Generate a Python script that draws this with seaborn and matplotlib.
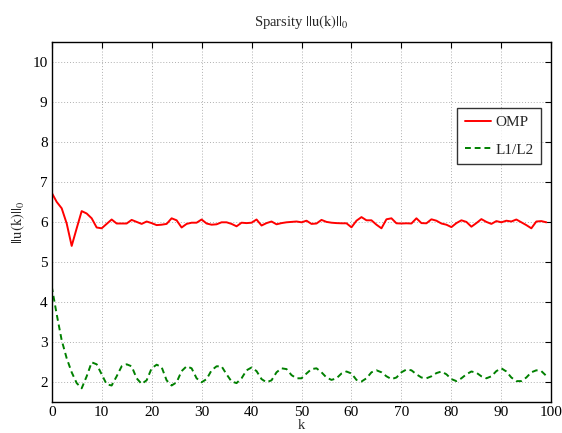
import numpy as np
import pandas as pd
import matplotlib
matplotlib.use("Agg")
import matplotlib.pyplot as plt
import seaborn as sns

k = list(range(100))
omp = [6.74, 6.51, 6.35, 5.97, 5.41, 5.85, 6.28, 6.22, 6.10, 5.87,
       5.85, 5.96, 6.07, 5.97, 5.97, 5.97, 6.06, 6.01, 5.96, 6.02,
       5.98, 5.93, 5.94, 5.96, 6.10, 6.05, 5.87, 5.96, 5.99, 5.99,
       6.07, 5.97, 5.94, 5.95, 6.00, 6.00, 5.96, 5.90, 5.99, 5.98,
       5.99, 6.07, 5.92, 5.98, 6.02, 5.95, 5.98, 6.00, 6.01, 6.02,
       6.00, 6.04, 5.96, 5.97, 6.06, 6.01, 5.99, 5.98, 5.975, 5.975,
       5.875, 6.04, 6.13, 6.05, 6.05, 5.94, 5.85, 6.075, 6.10, 5.975,
       5.97, 5.975, 5.97, 6.10, 5.98, 5.975, 6.075, 6.04, 5.97, 5.94,
       5.88, 5.98, 6.05, 6.01, 5.89, 5.98, 6.08, 6.01, 5.96, 6.03,
       6.00, 6.04, 6.02, 6.07, 6.00, 5.93, 5.85, 6.02, 6.03, 6.00]
l1l2 = [4.40, 3.70, 3.05, 2.60, 2.25, 1.98, 1.85, 2.15, 2.50, 2.45,
        2.20, 1.95, 1.92, 2.15, 2.40, 2.45, 2.40, 2.10, 1.96, 2.05,
        2.35, 2.44, 2.38, 2.05, 1.92, 2.00, 2.28, 2.40, 2.35, 2.10,
        2.00, 2.08, 2.30, 2.40, 2.40, 2.20, 2.02, 1.98, 2.10, 2.30,
        2.37, 2.28, 2.08, 2.00, 2.05, 2.25, 2.35, 2.33, 2.18, 2.10,
        2.10, 2.22, 2.33, 2.35, 2.25, 2.12, 2.06, 2.10, 2.22, 2.27,
        2.22, 2.06, 2.02, 2.10, 2.25, 2.30, 2.25, 2.15, 2.08, 2.12,
        2.25, 2.32, 2.30, 2.20, 2.12, 2.10, 2.15, 2.23, 2.27, 2.20,
        2.08, 2.03, 2.10, 2.20, 2.27, 2.24, 2.15, 2.10, 2.15, 2.28,
        2.35, 2.27, 2.12, 2.03, 2.03, 2.12, 2.25, 2.30, 2.28, 2.16]
series_names = ["OMP", "L1/L2"]
xticks = list(range(0, 101, 10))
yticks = list(range(2, 11))

sns.set_theme(style="white")
plt.rcParams['font.family'] = ['Liberation Serif', 'DejaVu Serif']
plt.rcParams['mathtext.fontset'] = 'stix'

fig = plt.figure(figsize=(5.62, 4.33), dpi=100)
ax = fig.add_axes([0.092, 0.0709, 0.889, 0.8314])

df = pd.DataFrame({"k": k * 2,
                   "val": omp + l1l2,
                   "method": [series_names[0]] * len(k) + [series_names[1]] * len(k)})
sns.lineplot(data=df, x="k", y="val", hue="method", style="method",
             palette={"OMP": "#ff0000", "L1/L2": "#008000"},
             dashes={"OMP": "", "L1/L2": (3, 2)},
             linewidth=1.4, ax=ax)

ax.set_xlim(0, 100)
ax.set_ylim(1.5, 10.5)
ax.set_xticks(xticks)
ax.set_yticks(yticks)
ax.tick_params(direction="in", length=4, width=0.8, top=True, right=True,
               labelsize=11, colors="black", pad=3)
ax.grid(True, linestyle=(0, (1, 2)), color="#b0b0b0", linewidth=0.7)
for s in ax.spines.values():
    s.set_color("black")
    s.set_linewidth(1.0)
    s.set_visible(True)

ax.set_title(r"Sparsity $||\mathrm{u(k)}||_0$", fontsize=10.5, pad=12)
ax.set_xlabel("k", fontsize=10.5, labelpad=0)
ax.set_ylabel(r"$||\mathrm{u(k)}||_0$", fontsize=10.5, labelpad=4)

leg = ax.legend(loc="upper right", bbox_to_anchor=(0.98, 0.818), borderaxespad=0,
                fontsize=11, frameon=True, fancybox=False, handlelength=1.7,
                handletextpad=0.3, borderpad=0.5, labelspacing=0.9)
leg.get_frame().set_edgecolor("black")
leg.get_frame().set_linewidth(1.0)
leg.set_title(None)

fig.savefig("out.png", dpi=100)
